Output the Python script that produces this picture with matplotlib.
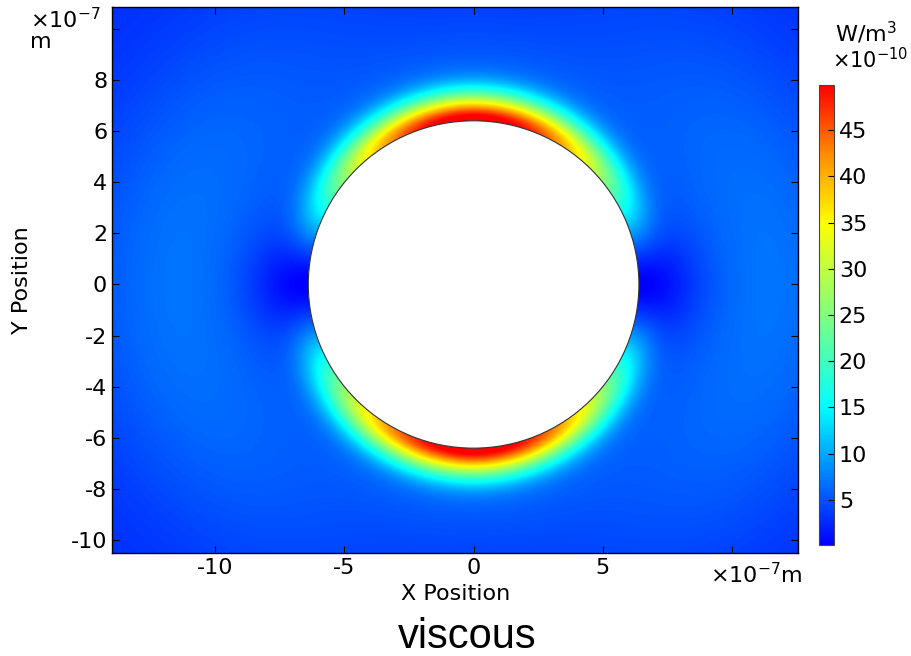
import numpy as np
import matplotlib
matplotlib.use("Agg")
import matplotlib.pyplot as plt
from matplotlib.colors import LinearSegmentedColormap
from matplotlib.patches import Circle

plt.rcParams['font.family'] = 'DejaVu Sans'
plt.rcParams['mathtext.default'] = 'regular'

# view window and body (units of 1e-7 m)
x_limits = [-14.0, 12.56]
y_limits = [-10.5, 10.85]
radius = 6.4

# dissipation field parameters (units of 1e-10 W/m^3)
peak_value = 49.9        # at the wall, top and bottom
angle_power = 1.7        # fall-off of the wall value towards the sides
layer_width = 1.05       # gaussian width of the hot layer
tail_length = 2.5        # slow tail of the halo
tail_share = 0.15
base_level = 2.7         # far field above/below
side_bump = 4.3          # extra level left/right of the body
side_bump_r = 11.4
side_bump_w = 4.0
stagnation_size = 2.0    # dark spots left and right of the body

cbar_min, cbar_max = 0.1, 49.9
cbar_ticks = [5, 10, 15, 20, 25, 30, 35, 40, 45]
x_ticks = [-10, -5, 0, 5, 10]
x_ticklabels = ["-10", "-5", "0", "5", ""]
y_ticks = [-10, -8, -6, -4, -2, 0, 2, 4, 6, 8, 10]
y_ticklabels = ["-10", "-8", "-6", "-4", "-2", "0", "2", "4", "6", "8", ""]

# colour map like the COMSOL rainbow
cmap = LinearSegmentedColormap.from_list("rainbow_c", [
    (0.0, (0, 0, 1)), (0.3, (0, 1, 1)), (0.5, (0.5, 1, 0.5)),
    (0.7, (1, 1, 0)), (0.85, (1, 0.55, 0)), (1.0, (1, 0, 0))])

xs = np.linspace(x_limits[0], x_limits[1], 900)
ys = np.linspace(y_limits[0], y_limits[1], 730)
X, Y = np.meshgrid(xs, ys)
R = np.hypot(X, Y)
d = np.clip(R - radius, 0, None)
sin_a = np.abs(Y) / np.maximum(R, 1e-9)
cos2 = 1 - sin_a ** 2
ds = np.hypot(np.abs(X) - radius, Y)   # distance to the stagnation points

ring = peak_value * sin_a ** angle_power * (
    (1 - tail_share) * np.exp(-(d / layer_width) ** 2)
    + tail_share * np.exp(-d / tail_length))
bump = side_bump * cos2 * np.exp(-((R - side_bump_r) / side_bump_w) ** 2)
back = (base_level + bump) * (1 - np.exp(-(ds / stagnation_size) ** 2))
field = ring + back
field = np.ma.masked_where(R < radius, field)

fig = plt.figure(figsize=(9.12, 6.56), dpi=100)
ax = fig.add_axes([112/912, 1-553/656, 686/912, 546/656])
cax = fig.add_axes([819/912, 1-545/656, 15/912, 460/656])

im = ax.imshow(field, extent=[x_limits[0], x_limits[1], y_limits[0], y_limits[1]],
               origin="lower", cmap=cmap, vmin=cbar_min, vmax=cbar_max,
               aspect="auto", interpolation="bilinear")
ax.add_patch(Circle((0, 0), radius, facecolor="white", edgecolor="#333333", lw=0.8))
ax.set_xlim(x_limits)
ax.set_ylim(y_limits)
ax.set_xticks(x_ticks)
ax.set_xticklabels(x_ticklabels)
ax.set_yticks(y_ticks)
ax.set_yticklabels(y_ticklabels)
ax.tick_params(direction="in", length=5, top=True, right=True, labelsize=16)
for s in ax.spines.values():
    s.set_linewidth(1.0)

cb = fig.colorbar(im, cax=cax, ticks=cbar_ticks)
cb.ax.tick_params(direction="in", length=4, labelsize=16)
cb.outline.set_edgecolor("#444444")

fig.text(456/912, 1-594/656, "X Position", ha="center", va="center", fontsize=16)
fig.text(22/912, 1-280/656, "Y Position", ha="center", va="center", fontsize=16, rotation=90)
fig.text(30/912, 1-20/656, r"$\times10^{-7}$", ha="left", va="center", fontsize=16)
fig.text(30/912, 1-42/656, "m", ha="left", va="center", fontsize=16)
fig.text(710/912, 1-575/656, r"$\times10^{-7}$m", ha="left", va="center", fontsize=16)
fig.text(835/912, 1-33/656, r"W/m$^{3}$", ha="left", va="center", fontsize=16)
fig.text(832/912, 1-60/656, r"$\times10^{-10}$", ha="left", va="center", fontsize=15)
fig.text(467/912, 1-648/656, "viscous", ha="center", va="baseline", fontsize=30,
         family="Liberation Sans")

fig.savefig("out.png", dpi=100)
